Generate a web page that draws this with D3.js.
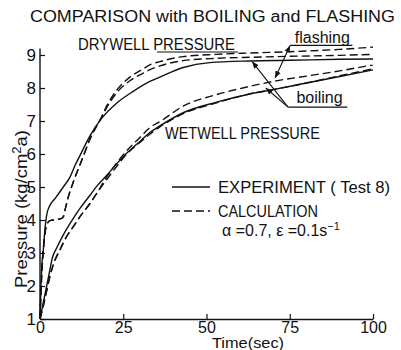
<!DOCTYPE html>
<html>
<head>
<meta charset="utf-8">
<script src="https://cdn.jsdelivr.net/npm/d3@7"></script>
<style>
  body { margin: 0; background: #fff; }
  svg { display: block; }
  text { font-family: "Liberation Sans", Arial, sans-serif; fill: #111; }
</style>
</head>
<body>
<svg id="chart" width="401" height="350"></svg>
<script>
// time (sec) and pressure (kg/cm2a)
const dryExpT = [0, 0.3, 0.6, 1, 1.5, 2, 3, 4.5, 7, 9, 10.5, 12, 15, 18.5, 23, 28, 33, 36, 43, 51, 63, 75, 90, 100];
const dryExpP = [1, 2.0, 2.7, 3.1, 3.75, 4.15, 4.45, 4.65, 5.0, 5.3, 5.65, 5.95, 6.55, 7.08, 7.54, 7.9, 8.2, 8.33, 8.62, 8.77, 8.82, 8.84, 8.87, 8.88];

const dryBoilT = [0, 0.5, 1, 1.5, 2, 3, 4, 5, 6.5, 7, 7.5, 8.5, 10, 11.5, 12.5, 15, 18.5, 20, 23, 27, 31, 33, 36, 43, 53, 63, 75, 90, 100];
const dryBoilP = [1, 2.3, 3.1, 3.6, 3.85, 3.98, 4.0, 4.02, 4.05, 4.1, 4.3, 4.7, 5.15, 5.55, 5.8, 6.45, 7.12, 7.4, 7.85, 8.22, 8.45, 8.56, 8.67, 8.83, 8.9, 8.93, 8.96, 8.99, 9.02];

const dryFlashT = [0, 0.5, 1, 1.5, 2, 3, 4, 5, 6.5, 7, 7.5, 8.5, 10, 11.5, 12.5, 15, 18.5, 20, 23, 27, 31, 33, 36, 43, 53, 63, 75, 90, 100];
const dryFlashP = [1, 2.3, 3.1, 3.6, 3.85, 3.98, 4.0, 4.02, 4.05, 4.1, 4.3, 4.7, 5.15, 5.55, 5.8, 6.45, 7.12, 7.45, 7.93, 8.33, 8.58, 8.7, 8.8, 8.95, 9.02, 9.06, 9.1, 9.17, 9.24];

const wetExpT = [0, 1, 2, 3, 3.7, 5, 7, 10, 12, 15, 17, 20, 23, 25, 30, 33, 36, 43, 53, 63, 70, 80, 90, 100];
const wetExpP = [1, 1.5, 2.0, 2.5, 2.85, 3.15, 3.55, 4.05, 4.35, 4.75, 5.02, 5.35, 5.7, 5.92, 6.38, 6.65, 6.85, 7.25, 7.57, 7.82, 7.95, 8.15, 8.35, 8.55];

const wetBoilT = [0, 1, 2, 3, 4, 6, 8, 10, 12, 15, 17, 20, 23, 25, 30, 33, 36, 43, 53, 63, 70, 80, 90, 100];
const wetBoilP = [1, 1.4, 1.85, 2.3, 2.65, 3.1, 3.5, 3.8, 4.1, 4.5, 4.8, 5.22, 5.62, 5.88, 6.35, 6.6, 6.82, 7.22, 7.55, 7.82, 7.95, 8.15, 8.37, 8.58];

const wetFlashT = [0, 1, 2, 3, 4, 6, 8, 10, 12, 15, 17, 20, 23, 25, 30, 33, 36, 43, 53, 63, 70, 80, 90, 100];
const wetFlashP = [1, 1.4, 1.85, 2.3, 2.65, 3.1, 3.5, 3.8, 4.1, 4.5, 4.8, 5.3, 5.72, 5.98, 6.5, 6.8, 6.98, 7.45, 7.8, 8.05, 8.2, 8.36, 8.52, 8.7];

const xTicks = [0, 25, 50, 75, 100];
const yTicks = [1, 2, 3, 4, 5, 6, 7, 8, 9];

const svg = d3.select('#chart');
const x = d3.scaleLinear().domain([0, 100]).range([40, 373]);
const y = d3.scaleLinear().domain([1, 9]).range([319, 55]);

const zip = (ts, ps) => ts.map((t, i) => [t, ps[i]]);
const line = d3.line().x(d => x(d[0])).y(d => y(d[1])).curve(d3.curveMonotoneX);

const series = [
  { pts: zip(dryExpT, dryExpP), dash: null },
  { pts: zip(dryBoilT, dryBoilP), dash: '8,4' },
  { pts: zip(dryFlashT, dryFlashP), dash: '8,4' },
  { pts: zip(wetExpT, wetExpP), dash: null },
  { pts: zip(wetBoilT, wetBoilP), dash: '8,4' },
  { pts: zip(wetFlashT, wetFlashP), dash: '8,4' }
];

svg.selectAll('path.curve').data(series).enter().append('path')
  .attr('class', 'curve')
  .attr('d', d => line(d.pts))
  .attr('fill', 'none')
  .attr('stroke', '#111')
  .attr('stroke-width', 1.4)
  .attr('stroke-dasharray', d => d.dash);

// axes
const yAxis = d3.axisLeft(y).tickValues(yTicks).tickSizeInner(-5).tickSizeOuter(0).tickPadding(4);
const gy = svg.append('g').attr('transform', `translate(${x(0)},0)`).call(yAxis);
gy.select('.domain').remove();
gy.selectAll('text').style('font-size', '17px').attr('fill', '#111');
gy.selectAll('line').attr('stroke', '#111').attr('stroke-width', 1.2);
svg.append('line').attr('x1', x(0)).attr('x2', x(0)).attr('y1', y(1)).attr('y2', y(9.2))
  .attr('stroke', '#111').attr('stroke-width', 1.4);

const xAxis = d3.axisBottom(x).tickValues(xTicks).tickSizeInner(-5).tickSizeOuter(0).tickPadding(3);
const gx = svg.append('g').attr('transform', `translate(0,${y(1)})`).call(xAxis);
gx.select('.domain').attr('stroke', '#111').attr('stroke-width', 1.4);
gx.selectAll('text').style('font-size', '16px').attr('fill', '#111');
gx.selectAll('line').attr('stroke', '#111').attr('stroke-width', 1.2);

// titles
svg.append('text').attr('x', 30).attr('y', 22)
  .attr('textLength', 365).attr('lengthAdjust', 'spacingAndGlyphs')
  .style('font-size', '16px').text('COMPARISON with BOILING and FLASHING');

svg.append('text').attr('x', 212).attr('y', 348)
  .attr('textLength', 72).attr('lengthAdjust', 'spacingAndGlyphs')
  .style('font-size', '15px').text('Time(sec)');

const yt = svg.append('text').attr('transform', 'translate(27,209) rotate(-90)')
  .attr('text-anchor', 'middle').style('font-size', '17px')
  .attr('textLength', 158).attr('lengthAdjust', 'spacingAndGlyphs');
yt.append('tspan').text('Pressure (kg/cm');
yt.append('tspan').attr('dy', -6).style('font-size', '12px').text('2');
yt.append('tspan').attr('dy', 6).text('a)');

// curve labels
svg.append('text').attr('x', 78).attr('y', 50)
  .attr('textLength', 157).attr('lengthAdjust', 'spacingAndGlyphs')
  .style('font-size', '16px').text('DRYWELL PRESSURE');
svg.append('line').attr('x1', 157).attr('x2', 238).attr('y1', 52).attr('y2', 52)
  .attr('stroke', '#111').attr('stroke-width', 1.2);

svg.append('text').attr('x', 165).attr('y', 139)
  .attr('textLength', 155).attr('lengthAdjust', 'spacingAndGlyphs')
  .style('font-size', '16px').text('WETWELL PRESSURE');

// flashing / boiling callouts (positions in data units)
const defs = svg.append('defs');
defs.append('marker').attr('id', 'ah').attr('viewBox', '0 0 10 10')
  .attr('refX', 10).attr('refY', 5).attr('markerWidth', 7).attr('markerHeight', 7)
  .attr('orient', 'auto-start-reverse').attr('markerUnits', 'userSpaceOnUse')
  .append('path').attr('d', 'M0,1L10,5L0,9Z').attr('fill', '#111');

const callouts = [
  { label: 'flashing', at: [76.5, 9.35], under: [75.1, 93.8, 9.29], arrows: [[70.6, 8.3]], both: true },
  { label: 'boiling', at: [77.0, 7.55], under: [74.5, 92.3, 7.42], arrows: [[63.7, 8.8], [67.8, 8.0]], both: false }
];
callouts.forEach(c => {
  svg.append('text').attr('x', x(c.at[0])).attr('y', y(c.at[1]))
    .style('font-size', '16px').text(c.label);
  svg.append('line')
    .attr('x1', x(c.under[0])).attr('x2', x(c.under[1]))
    .attr('y1', y(c.under[2])).attr('y2', y(c.under[2]))
    .attr('stroke', '#111').attr('stroke-width', 1.2);
  c.arrows.forEach(a => {
    const l = svg.append('line')
      .attr('x1', x(c.under[0])).attr('y1', y(c.under[2]))
      .attr('x2', x(a[0])).attr('y2', y(a[1]))
      .attr('stroke', '#111').attr('stroke-width', 1.1)
      .attr('marker-end', 'url(#ah)');
    if (c.both) l.attr('marker-start', 'url(#ah)');
  });
});

// legend
const legend = [
  { dash: null, label: 'EXPERIMENT ( Test 8)', len: 172, y: 187 },
  { dash: '8,4', label: 'CALCULATION', len: 100, y: 211 }
];
legend.forEach(d => {
  svg.append('line').attr('x1', 172).attr('x2', 210).attr('y1', d.y).attr('y2', d.y)
    .attr('stroke', '#111').attr('stroke-width', 1.4).attr('stroke-dasharray', d.dash);
  svg.append('text').attr('x', 218).attr('y', d.y + 6)
    .attr('textLength', d.len).attr('lengthAdjust', 'spacingAndGlyphs')
    .style('font-size', '16px').text(d.label);
});
const par = svg.append('text').attr('x', 222).attr('y', 236).style('font-size', '16px');
par.append('tspan').text('α =0.7,   ε =0.1s');
par.append('tspan').attr('dy', -6).style('font-size', '11px').text('−1');
</script>
</body>
</html>
